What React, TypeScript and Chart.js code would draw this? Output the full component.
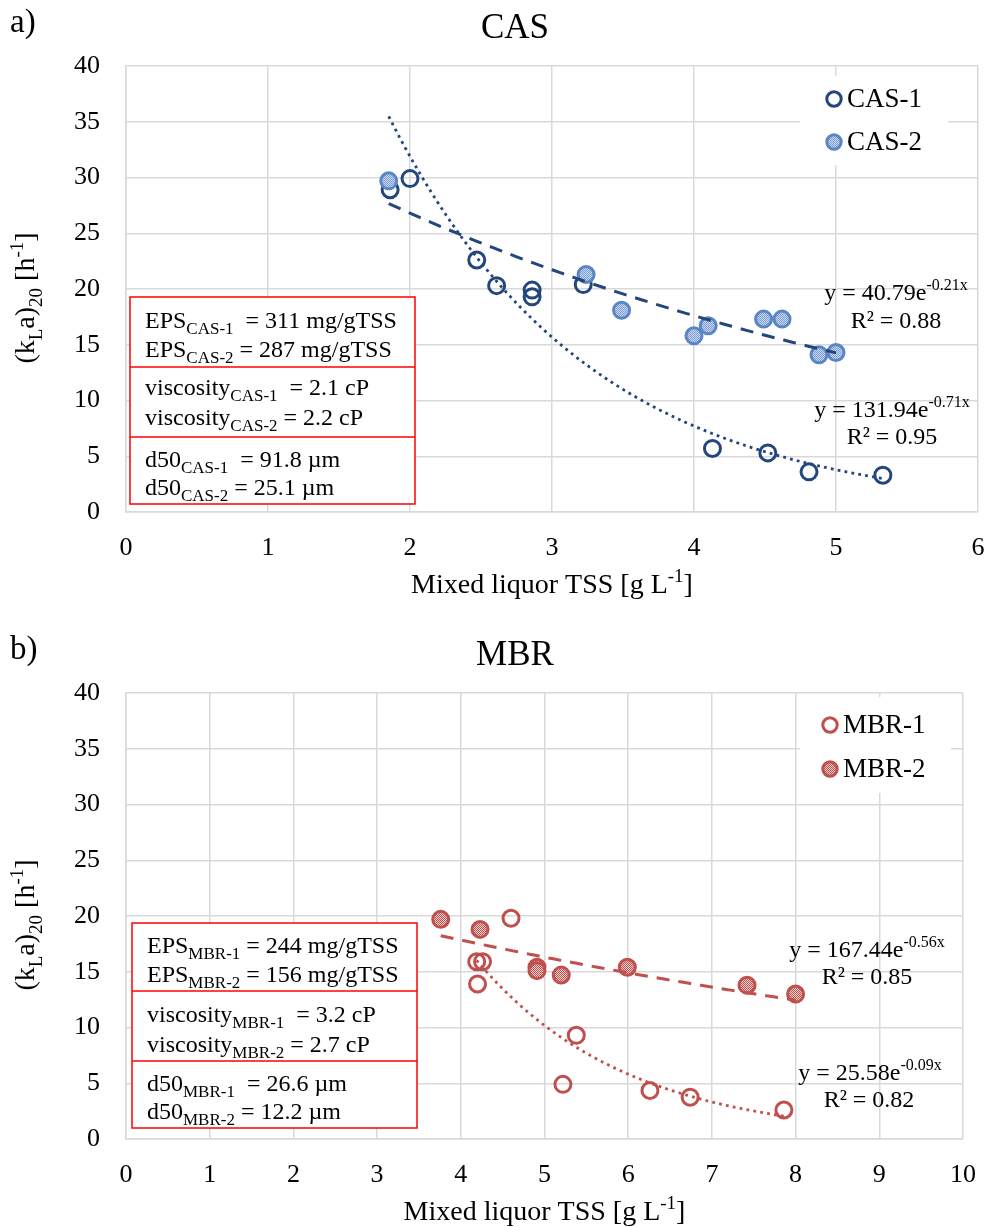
import React, { useEffect, useRef } from "react";
import { Chart, registerables } from "chart.js";

Chart.register(...registerables);

const FONT = '"Liberation Serif", "Times New Roman", serif';

// ---------- data ----------
const casLabels = ["CAS-1", "CAS-2"];
const casX1 = [1.86, 2.0, 2.47, 2.61, 2.86, 2.86, 3.22, 4.13, 4.52, 4.81, 5.33];
const casY1 = [28.9, 29.9, 22.6, 20.3, 19.9, 19.3, 20.4, 5.7, 5.3, 3.6, 3.3];
const casX2 = [1.85, 3.24, 3.49, 4.0, 4.1, 4.49, 4.62, 4.88, 5.0];
const casY2 = [29.7, 21.3, 18.1, 15.8, 16.7, 17.3, 17.3, 14.1, 14.3];

const mbrLabels = ["MBR-1", "MBR-2"];
const mbrX1 = [4.6, 4.19, 4.26, 4.2, 5.38, 5.22, 6.26, 6.74, 7.86];
const mbrY1 = [19.8, 15.9, 15.9, 13.9, 9.3, 4.9, 4.35, 3.75, 2.6];
const mbrX2 = [3.76, 4.23, 4.91, 4.91, 5.2, 5.99, 7.42, 8.0];
const mbrY2 = [19.7, 18.8, 15.4, 15.1, 14.7, 15.4, 13.8, 13.0];

// exponential trendlines y = a * e^(b x), drawn over [from, to]
const casTrend1 = { a: 131.94, b: -0.71, from: 1.85, to: 5.33 };
const casTrend2 = { a: 40.79, b: -0.21, from: 1.85, to: 5.0 };
const mbrTrend1 = { a: 167.44, b: -0.56, from: 4.19, to: 7.86 };
const mbrTrend2 = { a: 25.58, b: -0.09, from: 3.76, to: 8.0 };

const yTicks = [0, 5, 10, 15, 20, 25, 30, 35, 40];
const casXMax = 6;
const mbrXMax = 10;

type Seg = { t: string; k?: "sub" | "sup" };

const casEquations: Seg[][] = [
  [{ t: "y = 40.79e" }, { t: "-0.21x", k: "sup" }],
  [{ t: "R² = 0.88" }],
  [{ t: "y = 131.94e" }, { t: "-0.71x", k: "sup" }],
  [{ t: "R² = 0.95" }],
];
const mbrEquations: Seg[][] = [
  [{ t: "y = 167.44e" }, { t: "-0.56x", k: "sup" }],
  [{ t: "R² = 0.85" }],
  [{ t: "y = 25.58e" }, { t: "-0.09x", k: "sup" }],
  [{ t: "R² = 0.82" }],
];

const casBox: Seg[][] = [
  [{ t: "EPS" }, { t: "CAS-1", k: "sub" }, { t: "  = 311 mg/gTSS" }],
  [{ t: "EPS" }, { t: "CAS-2", k: "sub" }, { t: " = 287 mg/gTSS" }],
  [{ t: "viscosity" }, { t: "CAS-1", k: "sub" }, { t: "  = 2.1 cP" }],
  [{ t: "viscosity" }, { t: "CAS-2", k: "sub" }, { t: " = 2.2 cP" }],
  [{ t: "d50" }, { t: "CAS-1", k: "sub" }, { t: "  = 91.8 µm" }],
  [{ t: "d50" }, { t: "CAS-2", k: "sub" }, { t: " = 25.1 µm" }],
];
const mbrBox: Seg[][] = [
  [{ t: "EPS" }, { t: "MBR-1", k: "sub" }, { t: " = 244 mg/gTSS" }],
  [{ t: "EPS" }, { t: "MBR-2", k: "sub" }, { t: " = 156 mg/gTSS" }],
  [{ t: "viscosity" }, { t: "MBR-1", k: "sub" }, { t: "  = 3.2 cP" }],
  [{ t: "viscosity" }, { t: "MBR-2", k: "sub" }, { t: " = 2.7 cP" }],
  [{ t: "d50" }, { t: "MBR-1", k: "sub" }, { t: "  = 26.6 µm" }],
  [{ t: "d50" }, { t: "MBR-2", k: "sub" }, { t: " = 12.2 µm" }],
];

const yTitle: Seg[] = [
  { t: "(k" },
  { t: "L", k: "sub" },
  { t: "a)" },
  { t: "20", k: "sub" },
  { t: " [h" },
  { t: "-1", k: "sup" },
  { t: "]" },
];
const xTitle: Seg[] = [{ t: "Mixed liquor TSS [g L" }, { t: "-1", k: "sup" }, { t: "]" }];

// ---------- helpers ----------
function setFont(ctx: CanvasRenderingContext2D, size: number) {
  ctx.font = `${size}px ${FONT}`;
}
function richWidth(ctx: CanvasRenderingContext2D, segs: Seg[], size: number, small: number) {
  let w = 0;
  for (const s of segs) {
    setFont(ctx, s.k ? small : size);
    w += ctx.measureText(s.t).width;
  }
  return w;
}
function drawRich(
  ctx: CanvasRenderingContext2D,
  segs: Seg[],
  x: number,
  y: number,
  size: number,
  small: number,
  align: "left" | "center"
) {
  const w = richWidth(ctx, segs, size, small);
  let cx = align === "center" ? x - w / 2 : x;
  ctx.textAlign = "left";
  ctx.textBaseline = "alphabetic";
  for (const s of segs) {
    setFont(ctx, s.k ? small : size);
    const dy = s.k === "sub" ? size * 0.27 : s.k === "sup" ? -size * 0.4 : 0;
    ctx.fillText(s.t, cx, y + dy);
    cx += ctx.measureText(s.t).width;
  }
}

function makePattern(c1: string, c2: string): CanvasPattern | string {
  const pc = document.createElement("canvas");
  pc.width = 2;
  pc.height = 2;
  const p = pc.getContext("2d");
  if (!p) return c1;
  p.fillStyle = c2;
  p.fillRect(0, 0, 2, 2);
  p.fillStyle = c1;
  p.fillRect(0, 0, 1, 1);
  p.fillRect(1, 1, 1, 1);
  const main = document.createElement("canvas").getContext("2d");
  return (main && main.createPattern(pc, "repeat")) || c1;
}

function toPoints(xs: number[], ys: number[]) {
  return xs.map((x, i) => ({ x, y: ys[i] }));
}
function trendPoints(t: { a: number; b: number; from: number; to: number }) {
  const pts: { x: number; y: number }[] = [];
  const n = 60;
  for (let i = 0; i <= n; i++) {
    const x = t.from + ((t.to - t.from) * i) / n;
    pts.push({ x, y: t.a * Math.exp(t.b * x) });
  }
  return pts;
}

// ---------- panel specs ----------
type PanelSpec = {
  canvasH: number;
  plotTop: number;
  plotBottom: number;
  plotLeft: number;
  plotRight: number;
  xMax: number;
  panelLabel: string;
  title: string;
  labels: string[];
  s1: { x: number[]; y: number[] };
  s2: { x: number[]; y: number[] };
  t1: { a: number; b: number; from: number; to: number };
  t2: { a: number; b: number; from: number; to: number };
  color1: string;
  border2: string;
  pat2: [string, string];
  trendColor: string;
  equations: Seg[][];
  eqPos: [number, number][];
  box: Seg[][];
  boxRect: { l: number; r: number; t: number; b: number; d: number[]; tx: number; base: number[] };
  legend: { l: number; r: number; t: number; b: number; mx: number; tx: number; ys: number[] };
};

const P2 = 612; // top offset of second panel

const casSpec: PanelSpec = {
  canvasH: 612,
  plotTop: 66,
  plotBottom: 512,
  plotLeft: 126,
  plotRight: 979,
  xMax: casXMax,
  panelLabel: "a)",
  title: "CAS",
  labels: casLabels,
  s1: { x: casX1, y: casY1 },
  s2: { x: casX2, y: casY2 },
  t1: casTrend1,
  t2: casTrend2,
  color1: "#23467c",
  border2: "#5a86c6",
  pat2: ["#7e9ed6", "#c8d6ee"],
  trendColor: "#23467c",
  equations: casEquations,
  eqPos: [
    [896, 300],
    [896, 328],
    [892, 417],
    [892, 444],
  ],
  box: casBox,
  boxRect: { l: 130, r: 415, t: 297, b: 504, d: [367, 437], tx: 145, base: [328, 357, 395, 425, 467, 495] },
  legend: { l: 800, r: 948, t: 76, b: 165, mx: 834, tx: 847, ys: [99, 142] },
};

const mbrSpec: PanelSpec = {
  canvasH: 615,
  plotTop: 693 - P2,
  plotBottom: 1139 - P2,
  plotLeft: 126,
  plotRight: 963,
  xMax: mbrXMax,
  panelLabel: "b)",
  title: "MBR",
  labels: mbrLabels,
  s1: { x: mbrX1, y: mbrY1 },
  s2: { x: mbrX2, y: mbrY2 },
  t1: mbrTrend1,
  t2: mbrTrend2,
  color1: "#c0504d",
  border2: "#c0504d",
  pat2: ["#c0504d", "#f0d2d1"],
  trendColor: "#c0504d",
  equations: mbrEquations,
  eqPos: [
    [867, 957 - P2],
    [867, 984 - P2],
    [870, 1080 - P2],
    [869, 1107 - P2],
  ],
  box: mbrBox,
  boxRect: {
    l: 132,
    r: 417,
    t: 923 - P2,
    b: 1128 - P2,
    d: [991 - P2, 1061 - P2],
    tx: 147,
    base: [953 - P2, 982 - P2, 1022 - P2, 1052 - P2, 1091 - P2, 1119 - P2],
  },
  legend: { l: 800, r: 951, t: 697 - P2, b: 793 - P2, mx: 830, tx: 843, ys: [725 - P2, 769 - P2] },
};

// ---------- extras plugin ----------
const extrasPlugin = {
  id: "extras",
  afterDraw(chart: any) {
    const spec: PanelSpec = chart.options.plugins.extras.spec;
    const ctx: CanvasRenderingContext2D = chart.ctx;
    const area = chart.chartArea;
    ctx.save();
    ctx.fillStyle = "#000";

    // panel label & title
    setFont(ctx, 33);
    ctx.textAlign = "left";
    ctx.textBaseline = "alphabetic";
    ctx.fillText(spec.panelLabel, 10, area.top - 34);
    setFont(ctx, 35);
    ctx.textAlign = "center";
    ctx.fillText(spec.title, 515, area.top - 28);

    // axis titles
    drawRich(ctx, xTitle, (area.left + area.right) / 2, area.bottom + 81, 28, 19, "center");
    ctx.save();
    ctx.translate(34, (area.top + area.bottom) / 2 + 9);
    ctx.rotate(-Math.PI / 2);
    ctx.fillStyle = "#000";
    drawRich(ctx, yTitle, 0, 0, 28, 19, "center");
    ctx.restore();

    // annotation box
    const b = spec.boxRect;
    ctx.fillStyle = "#fff";
    ctx.fillRect(b.l, b.t, b.r - b.l, b.b - b.t);
    ctx.strokeStyle = "#ff0000";
    ctx.lineWidth = 1.5;
    ctx.strokeRect(b.l, b.t, b.r - b.l, b.b - b.t);
    for (const d of b.d) {
      ctx.beginPath();
      ctx.moveTo(b.l, d);
      ctx.lineTo(b.r, d);
      ctx.stroke();
    }
    ctx.fillStyle = "#000";
    spec.box.forEach((line, i) => drawRich(ctx, line, b.tx, b.base[i], 24, 17, "left"));

    // equations
    spec.equations.forEach((line, i) => {
      const [x, y] = spec.eqPos[i];
      drawRich(ctx, line, x, y, 24, 16, "center");
    });

    // legend
    const L = spec.legend;
    ctx.fillStyle = "#fff";
    ctx.fillRect(L.l, L.t, L.r - L.l, L.b - L.t);
    const pointSets = chart.data.datasets.filter((d: any) => !d.isTrend);
    const ordered = [...pointSets].sort((a: any, c: any) => a.legendIndex - c.legendIndex);
    ordered.forEach((ds: any, i: number) => {
      const y = L.ys[i];
      ctx.beginPath();
      ctx.arc(L.mx, y, 7.2, 0, Math.PI * 2);
      if (ds.pointBackgroundColor && ds.pointBackgroundColor !== "transparent") {
        ctx.fillStyle = ds.pointBackgroundColor;
        ctx.fill();
      }
      ctx.strokeStyle = ds.pointBorderColor;
      ctx.lineWidth = 3;
      ctx.stroke();
      ctx.fillStyle = "#000";
      setFont(ctx, 27);
      ctx.textAlign = "left";
      ctx.textBaseline = "middle";
      ctx.fillText(ds.label, L.tx, y + 1);
    });
    ctx.restore();
  },
};

function buildConfig(spec: PanelSpec): any {
  const fill2 = makePattern(spec.pat2[0], spec.pat2[1]);
  const datasets = [
    {
      label: "trend2",
      isTrend: true,
      data: trendPoints(spec.t2),
      showLine: true,
      borderColor: spec.trendColor,
      borderWidth: 3,
      borderDash: [13, 9],
      pointRadius: 0,
      fill: false,
    },
    {
      label: "trend1",
      isTrend: true,
      data: trendPoints(spec.t1),
      showLine: true,
      borderColor: spec.trendColor,
      borderWidth: 2.8,
      borderDash: [2.8, 4.2],
      pointRadius: 0,
      fill: false,
    },
    {
      label: spec.labels[1],
      legendIndex: 1,
      data: toPoints(spec.s2.x, spec.s2.y),
      pointRadius: 8,
      pointBorderWidth: 3,
      pointBorderColor: spec.border2,
      pointBackgroundColor: fill2,
      showLine: false,
    },
    {
      label: spec.labels[0],
      legendIndex: 0,
      data: toPoints(spec.s1.x, spec.s1.y),
      pointRadius: 8,
      pointBorderWidth: 3,
      pointBorderColor: spec.color1,
      pointBackgroundColor: "transparent",
      showLine: false,
    },
  ];
  const W = 989;
  return {
    type: "scatter",
    data: { datasets },
    plugins: [extrasPlugin],
    options: {
      responsive: false,
      animation: false,
      events: [],
      layout: {
        padding: { left: 0, top: spec.plotTop, right: W - spec.plotRight, bottom: 0 },
      },
      plugins: {
        legend: { display: false },
        tooltip: { enabled: false },
        title: { display: false },
        extras: { spec },
      },
      scales: {
        x: {
          type: "linear",
          min: 0,
          max: spec.xMax,
          afterFit: (s: any) => {
            s.height = spec.canvasH - spec.plotBottom;
            s.paddingLeft = 0;
            s.paddingRight = 0;
          },
          ticks: {
            stepSize: 1,
            padding: 21,
            color: "#000",
            font: { family: FONT, size: 26 },
            maxRotation: 0,
          },
          grid: { color: "#d9d9d9", lineWidth: 1.5, drawTicks: false },
          border: { color: "#d9d9d9", width: 1.5 },
        },
        y: {
          type: "linear",
          min: yTicks[0],
          max: yTicks[yTicks.length - 1],
          afterFit: (s: any) => {
            s.width = spec.plotLeft;
            s.paddingTop = 0;
            s.paddingBottom = 0;
          },
          afterBuildTicks: (s: any) => {
            s.ticks = yTicks.map((v) => ({ value: v }));
          },
          ticks: {
            padding: 26,
            color: "#000",
            font: { family: FONT, size: 26 },
          },
          grid: { color: "#d9d9d9", lineWidth: 1.5, drawTicks: false },
          border: { color: "#d9d9d9", width: 1.5 },
        },
      },
    },
  };
}

function Panel({ spec }: { spec: PanelSpec }) {
  const ref = useRef<HTMLCanvasElement>(null);
  useEffect(() => {
    if (!ref.current) return;
    const chart = new Chart(ref.current, buildConfig(spec));
    return () => chart.destroy();
  }, [spec]);
  return (
    <canvas
      ref={ref}
      width={989}
      height={spec.canvasH}
      style={{ display: "block", width: 989, height: spec.canvasH }}
    />
  );
}

export default function App() {
  return (
    <div style={{ position: "absolute", left: 0, top: 0, width: 989, height: 1227, background: "#fff" }}>
      <Panel spec={casSpec} />
      <Panel spec={mbrSpec} />
    </div>
  );
}
